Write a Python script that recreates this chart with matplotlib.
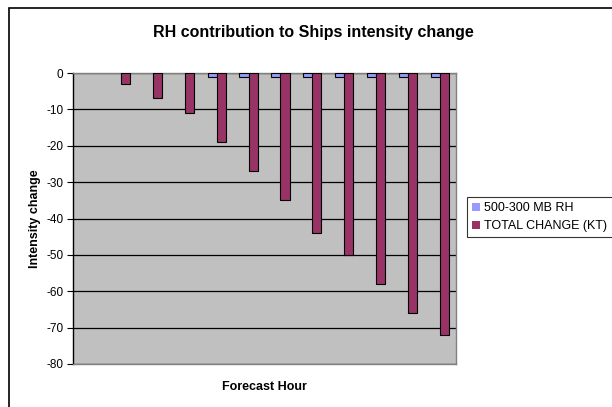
import matplotlib
matplotlib.use("Agg")
import matplotlib.pyplot as plt
from matplotlib.patches import Rectangle
import numpy as np

plt.rcParams['font.family'] = ['Liberation Sans', 'DejaVu Sans']

categories = [str(i) for i in range(1, 13)]
rh_values = [0, 0, 0, 0, -1, -1, -1, -1, -1, -1, -1, -1]
total_values = [0, -3, -7, -11, -19, -27, -35, -44, -50, -58, -66, -72]
yticks = [0, -10, -20, -30, -40, -50, -60, -70, -80]

W, H = 612, 407
fig = plt.figure(figsize=(W / 100, H / 100), dpi=100)
fig.patch.set_facecolor('white')

# outer chart frame (extends beyond right/bottom edges)
fig.patches.append(Rectangle((9 / W, -0.1), 1.2, 1 - 8 / H + 0.1,
                             transform=fig.transFigure, fill=False,
                             edgecolor='black', linewidth=1.2, zorder=0))

ax = fig.add_axes([73 / W, 1 - 364 / H, (456 - 73) / W, (364 - 73) / H])
ax.set_facecolor('#C0C0C0')

x = np.arange(len(categories))
bw = 1 / 3.5
lw_rh = [0.8 if v != 0 else 0 for v in rh_values]
lw_tot = [0.8 if v != 0 else 0 for v in total_values]
ax.bar(x - bw / 2, rh_values, bw, color='#9999FF', edgecolor='black',
       linewidth=lw_rh, label='500-300 MB RH', zorder=3)
ax.bar(x + bw / 2, total_values, bw, color='#993366', edgecolor='black',
       linewidth=lw_tot, label='TOTAL CHANGE (KT)', zorder=3)

ax.set_xlim(-0.5, len(categories) - 0.5)
ax.set_ylim(-80, 0)
ax.set_yticks(yticks)
ax.set_yticklabels([str(v) for v in yticks], fontsize=8.5)
ax.set_xticks([])
ax.yaxis.grid(True, color='black', linewidth=0.9, zorder=1)
ax.set_axisbelow(True)
ax.tick_params(axis='y', length=4, width=0.8, color='black', pad=3)

for side in ['top', 'right', 'bottom']:
    ax.spines[side].set_color('#808080')
    ax.spines[side].set_linewidth(1.0)
ax.spines['left'].set_color('black')
ax.spines['left'].set_linewidth(1.0)

ax.set_ylabel('Intensity change', fontsize=9, fontweight='bold', labelpad=4)
ax.set_xlabel('Forecast Hour', fontsize=9, fontweight='bold', labelpad=12)
fig.text(313 / W, 1 - 32 / H, 'RH contribution to Ships intensity change',
         fontsize=11.5, fontweight='bold', ha='center', va='center')

leg = fig.legend(loc='upper left', bbox_to_anchor=(467 / W, 1 - 197 / H),
                 fontsize=9, frameon=True, fancybox=False, edgecolor='black',
                 handlelength=0.6, handleheight=0.6, handletextpad=0.4,
                 borderpad=0.4, labelspacing=0.5, borderaxespad=0)
leg.get_frame().set_linewidth(0.8)

fig.savefig('out.png', dpi=100)
